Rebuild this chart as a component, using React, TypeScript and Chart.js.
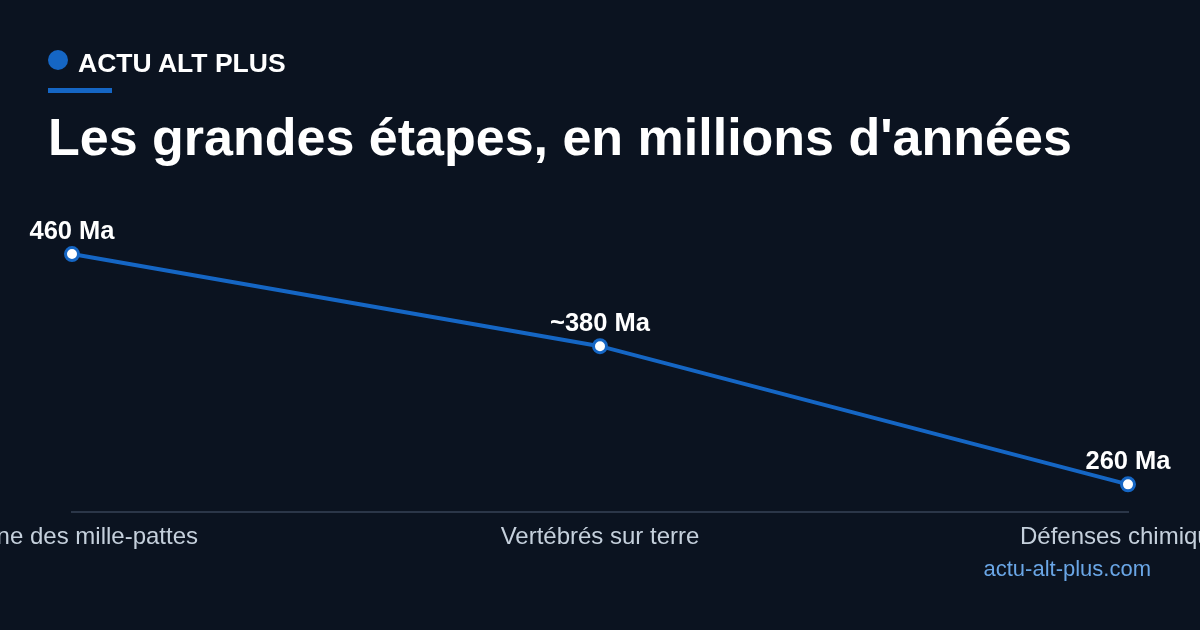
import { useEffect, useRef } from 'react';
import Chart from 'chart.js/auto';

const stages = ['Origine des mille-pattes', 'Vertébrés sur terre', 'Défenses chimiques'];
const millionsOfYears = [460, 380, 260];
const pointLabels = ['460 Ma', '~380 Ma', '260 Ma'];

const BG = '#0b1320';
const BLUE = '#1566c4';
const FONT = '"Liberation Sans", Arial, Helvetica, sans-serif';

const pointLabelPlugin = {
  id: 'pointLabels',
  afterDatasetsDraw(chart: Chart) {
    const ctx = chart.ctx;
    const meta = chart.getDatasetMeta(0);
    ctx.save();
    ctx.fillStyle = '#ffffff';
    ctx.font = `bold 25.5px ${FONT}`;
    ctx.textAlign = 'center';
    ctx.textBaseline = 'alphabetic';
    meta.data.forEach((pt: any, i: number) => {
      ctx.fillText(pointLabels[i], pt.x, pt.y - 15);
    });
    ctx.restore();
  },
};

const App = () => {
  const chartRef = useRef<HTMLCanvasElement | null>(null);
  const chartInstance = useRef<Chart<'line', number[], string> | null>(null);

  useEffect(() => {
    if (!chartRef.current) return;
    const ctx = chartRef.current.getContext('2d');
    if (!ctx) return;

    if (chartInstance.current) {
      chartInstance.current.destroy();
    }

    chartInstance.current = new Chart(ctx, {
      type: 'line',
      data: {
        labels: stages,
        datasets: [
          {
            data: millionsOfYears,
            borderColor: BLUE,
            borderWidth: 4,
            tension: 0,
            fill: false,
            pointRadius: 6.5,
            pointBorderWidth: 3,
            pointBackgroundColor: '#ffffff',
            pointBorderColor: BLUE,
          },
        ],
      },
      options: {
        animation: false,
        responsive: true,
        maintainAspectRatio: false,
        layout: { padding: { left: 72, right: 72, top: 208, bottom: 0 } },
        plugins: {
          legend: { display: false },
          tooltip: { enabled: false },
        },
        scales: {
          x: {
            offset: false,
            grid: { display: false, drawTicks: false },
            border: { display: true, color: '#2b3648', width: 2 },
            ticks: {
              color: '#c5d0dc',
              font: { family: FONT, size: 24 },
              maxRotation: 0,
              autoSkip: false,
              padding: 11,
            },
            afterFit: (scale: any) => {
              scale.paddingLeft = 0;
              scale.paddingRight = 0;
              scale.height = 118;
            },
          },
          y: {
            display: false,
            min: 236,
            max: 500,
          },
        },
      },
      plugins: [pointLabelPlugin],
    });

    return () => {
      if (chartInstance.current) {
        chartInstance.current.destroy();
        chartInstance.current = null;
      }
    };
  }, []);

  return (
    <div
      style={{
        position: 'fixed',
        left: 0,
        top: 0,
        width: 1200,
        height: 630,
        background: BG,
        overflow: 'hidden',
        fontFamily: FONT,
      }}
    >
      <div style={{ position: 'absolute', left: 0, top: 0, width: 1200, height: 630 }}>
        <canvas ref={chartRef} />
      </div>
      <div
        style={{
          position: 'absolute',
          left: 48,
          top: 50,
          width: 20,
          height: 20,
          borderRadius: '50%',
          background: BLUE,
        }}
      />
      <div
        style={{
          position: 'absolute',
          left: 78,
          top: 50,
          fontSize: 26.5,
          lineHeight: '26.5px',
          fontWeight: 'bold',
          color: '#ffffff',
          whiteSpace: 'nowrap',
        }}
      >
        ACTU ALT PLUS
      </div>
      <div
        style={{
          position: 'absolute',
          left: 48,
          top: 88,
          width: 64,
          height: 5,
          background: BLUE,
        }}
      />
      <div
        style={{
          position: 'absolute',
          left: 48,
          top: 111,
          fontSize: 52,
          lineHeight: '52px',
          fontWeight: 'bold',
          color: '#ffffff',
          whiteSpace: 'nowrap',
        }}
      >
        Les grandes étapes, en millions d'années
      </div>
      <div
        style={{
          position: 'absolute',
          right: 49,
          top: 558,
          fontSize: 22,
          lineHeight: '22px',
          color: '#6aa6e6',
          whiteSpace: 'nowrap',
        }}
      >
        actu-alt-plus.com
      </div>
    </div>
  );
};

export default App;
